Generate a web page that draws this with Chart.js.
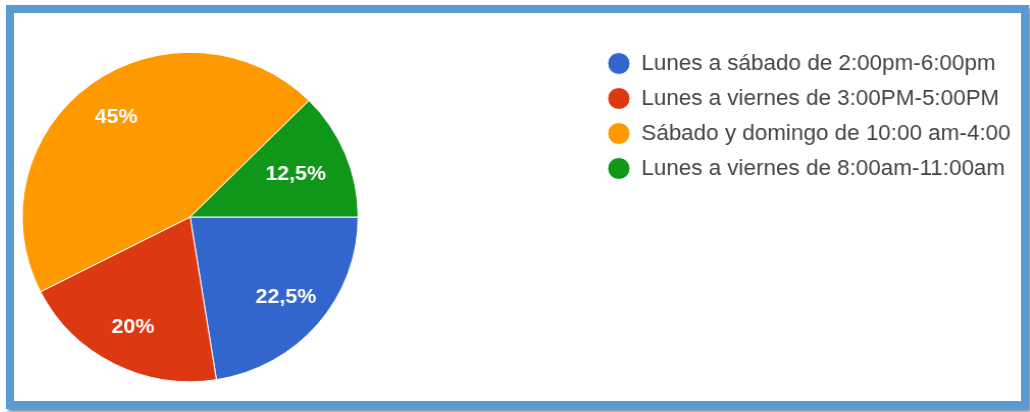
<!DOCTYPE html>
<html>
<head>
<meta charset="utf-8">
<script src="https://cdn.jsdelivr.net/npm/chart.js@4.4.0/dist/chart.umd.min.js"></script>
<style>
  html, body { margin: 0; padding: 0; background: #fff; }
  .frame {
    position: absolute;
    left: 6px;
    top: 5px;
    width: 1007px;
    height: 388px;
    border: 8px solid #5b9bd5;
    box-shadow: 2px 3px 3px rgba(0, 0, 0, 0.45);
    background: #fff;
    overflow: hidden;
  }
  /* the reference picture is a little wider than tall */
  canvas {
    display: block;
    transform: scaleX(1.02);
    transform-origin: 0 0;
  }
</style>
</head>
<body>
<div class="frame">
  <canvas id="pieChart" width="987" height="388"></canvas>
</div>
<script>
const labels = [
    "Lunes a sábado de 2:00pm-6:00pm",
    "Lunes a viernes de 3:00PM-5:00PM",
    "Sábado y domingo de 10:00 am-4:00",
    "Lunes a viernes de 8:00am-11:00am"
];
const values = [22.5, 20, 45, 12.5];
const colors = ["#3366cc", "#dc3912", "#ff9900", "#109618"];

const FONT = '"Liberation Sans", Arial, sans-serif';
const PIE_SIZE = 330.4;

const fmt = v => String(v).replace(".", ",") + "%";

// keep the pie square on the left, legend stays on the right
const pieBox = {
    id: "pieBox",
    afterLayout(chart) {
        const a = chart.chartArea;
        a.top = a.bottom - PIE_SIZE;
        a.right = a.left + PIE_SIZE;
        a.width = PIE_SIZE;
        a.height = PIE_SIZE;
    }
};

// percentage text inside each slice
const sliceLabels = {
    id: "sliceLabels",
    afterDatasetsDraw(chart) {
        const ctx = chart.ctx;
        const meta = chart.getDatasetMeta(0);
        ctx.save();
        ctx.font = "bold 21px " + FONT;
        ctx.fillStyle = "#ffffff";
        ctx.textAlign = "center";
        ctx.textBaseline = "middle";
        meta.data.forEach((arc, i) => {
            const p = arc.getProps(["x", "y", "startAngle", "endAngle", "outerRadius"], true);
            const mid = (p.startAngle + p.endAngle) / 2;
            const narrow = (p.endAngle - p.startAngle) < Math.PI / 3;
            const r = p.outerRadius * (narrow ? 0.68 : 0.75);
            ctx.fillText(fmt(values[i]), p.x + Math.cos(mid) * r, p.y + Math.sin(mid) * r);
        });
        ctx.restore();
    }
};

new Chart(document.getElementById("pieChart"), {
    type: "pie",
    data: {
        labels: labels,
        datasets: [
            {
                data: values,
                backgroundColor: colors,
                borderColor: "#ffffff",
                borderWidth: 1,
                hoverOffset: 0
            }
        ]
    },
    options: {
        responsive: false,
        animation: false,
        events: [],
        rotation: 90,
        layout: {
            padding: { top: 26.5, bottom: 18.8, left: 7.5, right: 0 }
        },
        plugins: {
            tooltip: { enabled: false },
            legend: {
                position: "right",
                align: "start",
                labels: {
                    usePointStyle: true,
                    pointStyle: "circle",
                    pointStyleWidth: 22,
                    boxHeight: 15.5,
                    padding: 13,
                    color: "#444444",
                    font: { size: 22, family: FONT }
                }
            }
        }
    },
    plugins: [pieBox, sliceLabels]
});
</script>
</body>
</html>
